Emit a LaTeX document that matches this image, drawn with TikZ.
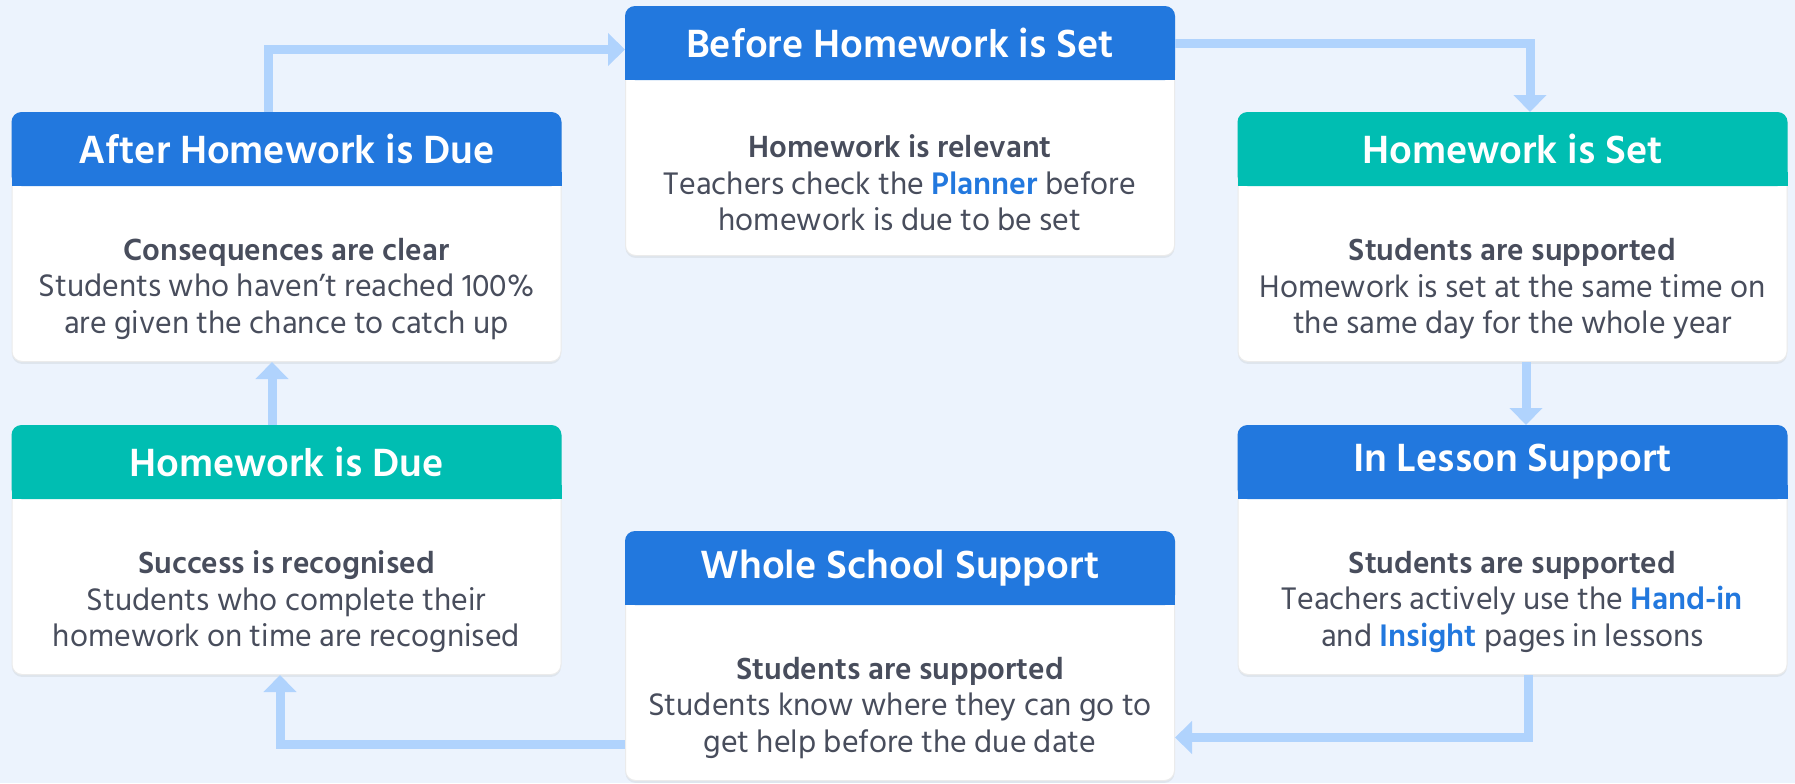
\documentclass[tikz,border=0pt]{standalone}
\usepackage{fontspec}
\setmainfont{Hind Siliguri}
\usetikzlibrary{arrows.meta,calc,shadows}
\definecolor{bgc}{RGB}{236,243,253}
\definecolor{hblue}{RGB}{34,120,222}
\definecolor{hteal}{RGB}{0,190,178}
\definecolor{flowc}{RGB}{176,211,253}
\definecolor{txt}{RGB}{72,77,92}
\definecolor{accent}{RGB}{34,120,222}
\tikzset{
  card/.style={draw=black!8, line width=0.5pt, fill=white, rounded corners=5pt,
    minimum width=274.5pt, minimum height=124.5pt, inner sep=0pt,
    drop shadow={opacity=0.12, shadow xshift=0pt, shadow yshift=-1.2pt}},
  titletext/.style={text=white, font=\fontsize{20.2}{23}\selectfont\bfseries, inner sep=0pt},
  bodytext/.style={text=txt, font=\fontsize{16}{18.25}\selectfont, align=center, inner sep=0pt},
  flow/.style={draw=flowc, line width=4.5pt, -{Triangle[length=8.5pt,width=16pt]}},
}
\newcommand\hl[1]{\textcolor{accent}{\bfseries #1}}
\newcommand\subhd[1]{{\fontsize{15.7}{18.25}\selectfont\bfseries #1}}
\newcommand\stagebox[8]{%
  \node[card, anchor=north] (#1) at (#2,#3) {};
  \fill[#4, rounded corners=5pt] (#1.north west) rectangle ([yshift=-37pt]#1.north east);
  \fill[#4] ([yshift=-30pt]#1.north west) rectangle ([yshift=-37pt]#1.north east);
  \node[titletext] (#1-t) at ([yshift=-18.5pt]#1.north) {#5};
  \node[bodytext] (#1-b) at ([yshift=-88.5pt]#1.north) {\subhd{#6}\\#7\\#8};
}
\begin{document}
\begin{tikzpicture}[x=0.5pt,y=-0.5pt]
\fill[bgc] (0,0) rectangle (1795,783);
\useasboundingbox (0,0) rectangle (1795,783);

\stagebox{after}{286.5}{112}{hblue}{After Homework is Due}{Consequences are clear}{Students who haven’t reached 100\%}{are given the chance to catch up}
\stagebox{before}{900}{6}{hblue}{Before Homework is Set}{Homework is relevant}{Teachers check the \hl{Planner} before}{homework is due to be set}
\stagebox{hwset}{1512.5}{112}{hteal}{Homework is Set}{Students are supported}{Homework is set at the same time on}{the same day for the whole year}
\stagebox{hwdue}{286.5}{425}{hteal}{Homework is Due}{Success is recognised}{Students who complete their}{homework on time are recognised}
\stagebox{whole}{900}{531}{hblue}{Whole School Support}{Students are supported}{Students know where they can go to}{get help before the due date}
\stagebox{lesson}{1512.5}{425}{hblue}{In Lesson Support}{Students are supported}{Teachers actively use the \hl{Hand-in}}{and \hl{Insight} pages in lessons}

\coordinate (k1) at (268,49.5);
\coordinate (k2) at (1530,43.5);
\coordinate (k3) at (1526,400);
\coordinate (k4) at (1528,737.5);
\coordinate (k5) at (280,744);
\coordinate (k6) at (272,400);

\draw[flow] (k1 |- after.north) -- (k1) -- (k1 -| before.west);
\draw[flow] (k2 -| before.east) -- (k2) -- (k2 |- hwset.north);
\draw[flow] (k3 |- hwset.south) -- (k3 |- lesson.north);
\draw[flow] (k4 |- lesson.south) -- (k4) -- (k4 -| whole.east);
\draw[flow] (k5 -| whole.west) -- (k5) -- (k5 |- hwdue.south);
\draw[flow] (k6 |- hwdue.north) -- (k6 |- after.south);
\end{tikzpicture}
\end{document}
